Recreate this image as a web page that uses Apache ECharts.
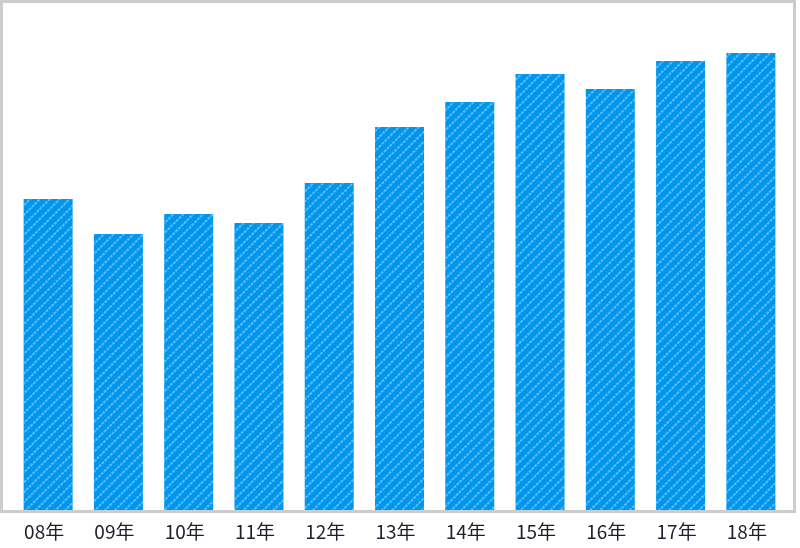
<!DOCTYPE html>
<html>
<head>
<meta charset="utf-8">
<style>
  html, body { margin: 0; padding: 0; background: #fff; }
  #chart { width: 800px; height: 548px; }
</style>
<script src="https://cdn.jsdelivr.net/npm/echarts@6/dist/echarts.min.js"></script>
</head>
<body>
<div id="chart"></div>
<script>
const years = ['08年', '09年', '10年', '11年', '12年', '13年', '14年', '15年', '16年', '17年', '18年']
const values = [311, 276, 296, 287, 327, 383, 408, 436, 421, 449, 457]

const chart = echarts.init(document.getElementById('chart'))
chart.setOption({
  animation: false,
  grid: { left: 13, right: 14, top: 10, bottom: 38 },
  graphic: [{
    type: 'rect',
    z: 10,
    shape: { x: 1.5, y: 1.5, width: 793, height: 510 },
    style: { fill: 'none', stroke: '#cccccc', lineWidth: 3 }
  }],
  xAxis: {
    type: 'category',
    data: years,
    axisLine: { show: false },
    axisTick: { show: false },
    axisLabel: {
      color: '#1e1e2e',
      fontSize: 19,
      margin: 12,
      padding: [0, 8, 0, 0],
      fontFamily: '"Noto Sans CJK SC", sans-serif'
    }
  },
  yAxis: {
    type: 'value',
    min: 0,
    max: 500,
    show: false
  },
  series: [{
    type: 'bar',
    data: values,
    barWidth: 49,
    itemStyle: {
      color: '#0096ee',
      decal: {
        symbol: 'rect',
        symbolSize: 1,
        color: 'rgba(255,255,255,0.35)',
        dashArrayX: [3, 1],
        dashArrayY: [1.5, 5],
        rotation: -Math.PI / 4
      }
    }
  }]
})
</script>
</body>
</html>
